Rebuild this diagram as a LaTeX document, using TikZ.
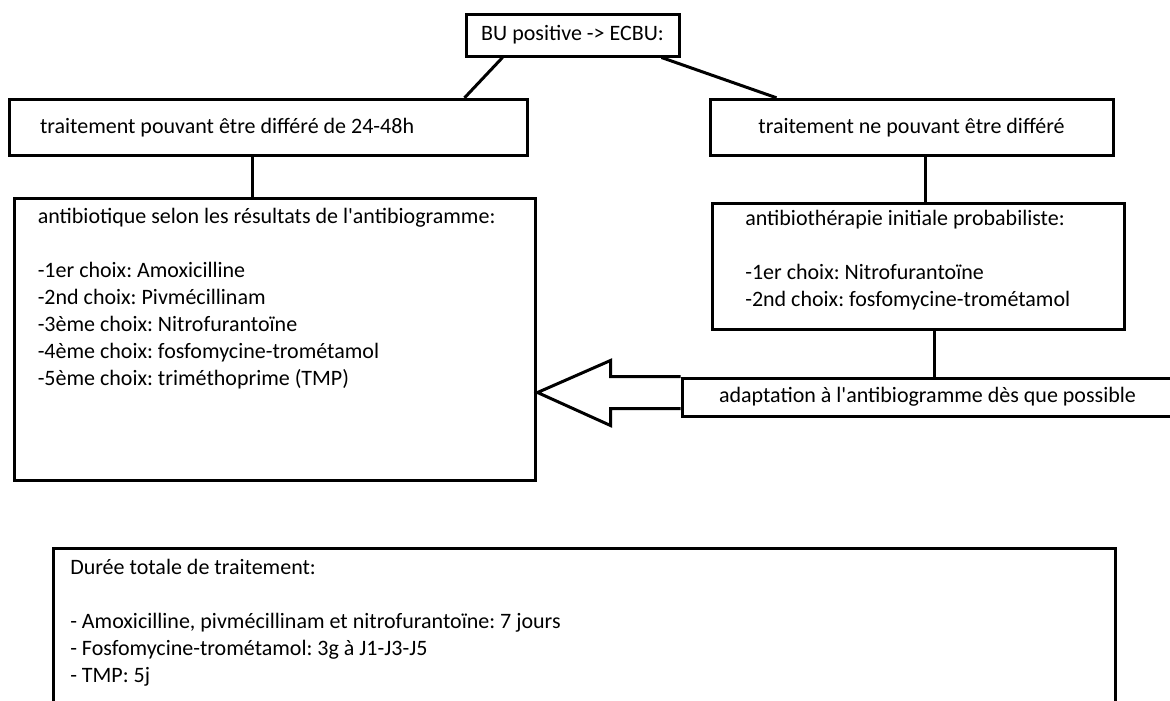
\documentclass[tikz,border=0pt]{standalone}
\usepackage{fontspec}
\newfontfamily\carlito{Carlito}
\usepackage{xcolor}
\usepackage{tikz}
\usetikzlibrary{calc}
\frenchspacing

\begin{document}
\begin{tikzpicture}[x=0.75pt,y=-0.75pt,
  font=\carlito\fontsize{16.5}{20.25}\selectfont,
  box/.style={draw=black,line width=2.25pt,inner sep=0pt},
  txt/.style={inner sep=0pt,align=flush left,anchor=base west},
  link/.style={draw=black,line width=2.25pt}]
\useasboundingbox (0,0) rectangle (1170,700);
\clip (0,0) rectangle (1170,700);
\node[box,minimum width=159.75pt,minimum height=31.5pt] (bu) at (572.5,35) {BU positive -> ECBU:};
\node[box,inner xsep=22.9pt,text width=342.75pt,align=flush left,minimum height=42pt] (diff) at (268.5,127.3) {traitement pouvant être différé de 24-48h};
\node[box,minimum width=302.25pt,minimum height=42pt] (nodiff) at (911.5,127.3) {traitement ne pouvant être différé};
\node[box,minimum width=390.4pt,minimum height=211.5pt] (choix) at (274.75,339) {};
\node[txt] (choixtxt) at (37.5,385) {antibiotique selon les résultats de l'antibiogramme:\\[20.25pt]
  -1er choix: Amoxicilline\\
  -2nd choix: Pivmécillinam\\
  -3ème choix: Nitrofurantoïne\\
  -4ème choix: fosfomycine-trométamol\\
  -5ème choix: triméthoprime (TMP)};
\node[box,minimum width=309pt,minimum height=94.5pt] (probab) at (918,266.5) {};
\node[txt] (probabtxt) at (745,306) {antibiothérapie initiale probabiliste:\\[20.25pt]
  -1er choix: Nitrofurantoïne\\
  -2nd choix: fosfomycine-trométamol};
\node[box,inner xsep=27.75pt,text width=345pt,align=flush left,minimum height=28.5pt] (adapt) at (949,397) {adaptation à l'antibiogramme dès que possible};
\node[box,minimum width=796.5pt,minimum height=129pt] (duree) at (584.5,634) {};
\node[txt] (dureetxt) at (70,682) {Durée totale de traitement:\\[20.25pt]
  - Amoxicilline, pivmécillinam et nitrofurantoïne: 7 jours\\
  - Fosfomycine-trométamol: 3g à J1-J3-J5\\
  - TMP: 5j};
\draw[link] ($(bu.south west)+(38,0)$) -- ($(diff.north east)+(-64.5,0)$);
\draw[link] ($(bu.south east)+(-19,0)$) -- ($(nodiff.north west)+(68,0)$);
\coordinate (l1) at ($(diff.south)+(-16.5,0)$);
\draw[link] (l1) -- (l1 |- choix.north);
\coordinate (l2) at ($(nodiff.south)+(13.5,0)$);
\draw[link] (l2) -- (l2 |- probab.north);
\coordinate (l3) at ($(probab.south)+(16,0)$);
\draw[link] (l3) -- (l3 |- adapt.north);
\draw[link] (adapt.north west) -- ++(-70,0) -- ++(0,-16) -- ++(-73,32) -- ++(73,33) -- ++(0,-17) -- ++(70,0);
\end{tikzpicture}
\end{document}
